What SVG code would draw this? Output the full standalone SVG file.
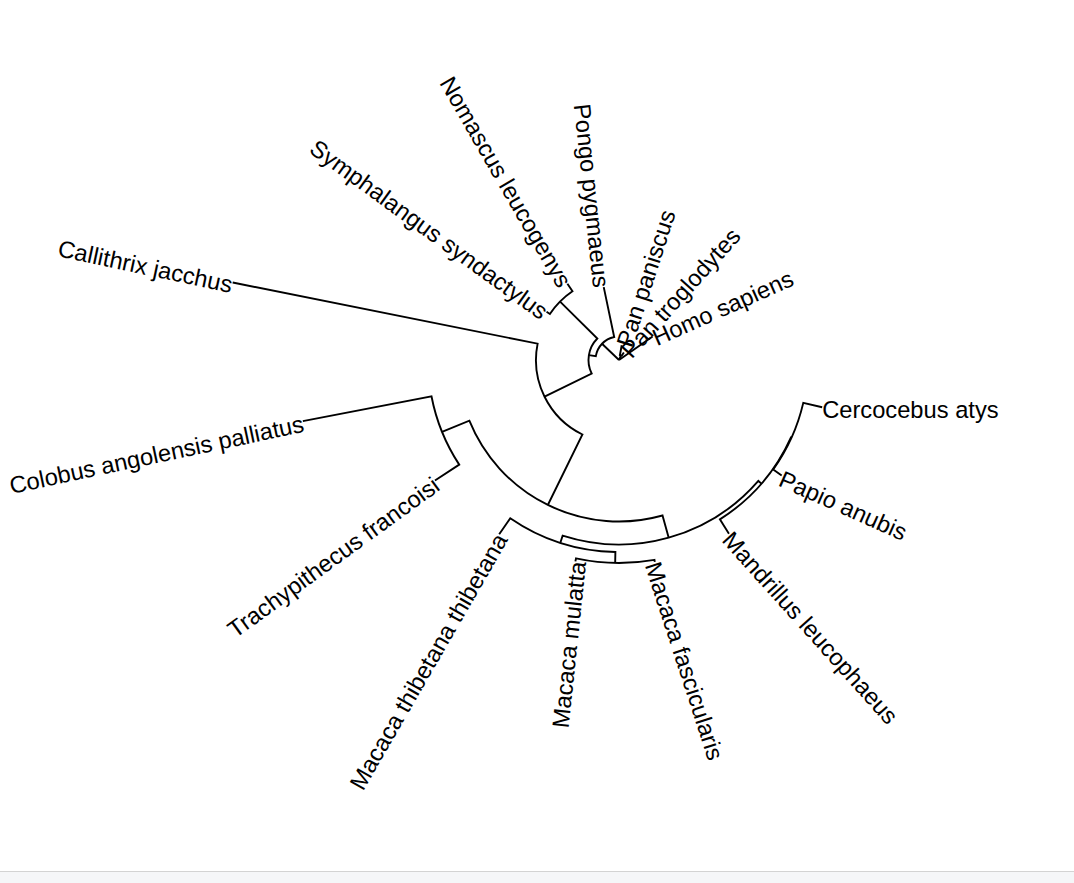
<svg xmlns="http://www.w3.org/2000/svg" width="1074" height="883" viewBox="0 0 1074 883">
<style>
.br{fill:none;stroke:#000;stroke-width:1.9;stroke-linejoin:miter;stroke-linecap:butt}
.lb{font-family:"Liberation Sans",Arial,sans-serif;font-size:23.7px;fill:#000}
.s{text-anchor:start}
.e{text-anchor:end}
</style>
<rect x="0" y="0" width="1074" height="883" fill="#fff"/>
<rect x="0" y="872" width="1074" height="11" fill="#f5f6f8"/>
<line x1="0" y1="871.5" x2="1074" y2="871.5" stroke="#d3d3d3" stroke-width="1"/>
<g id="connectors">
<path class="br" d="M 602.02 343.76 L 619 360 M 619 360 L 620.84 355.35 M 619 360 L 652.59 336.49"/>
<path class="br" d="M 621.72 345.25 L 619.91 355.08 A 5 5 0 0 1 621.70 355.79 L 623.87 352.43"/>
<path class="br" d="M 588.90 355.10 L 595.81 356.22 A 23.5 23.5 0 0 1 614.19 337.00 L 603.74 287.08"/>
<path class="br" d="M 544.57 396.72 L 591.65 373.49 A 30.5 30.5 0 0 1 597.34 338.52 L 560.07 301.56"/>
<path class="br" d="M 547.84 504.98 L 582.43 434.51 A 83 83 0 0 1 537.62 343.68 L 232.69 282.52"/>
<path class="br" d="M 546.55 311.83 L 549.88 314.04 A 83 83 0 0 1 572.47 291.27 L 567.42 283.82"/>
<path class="br" d="M 668.70 537.68 L 662.51 515.53 A 161.5 161.5 0 0 1 469.35 420.70 L 442.01 431.80"/>
<path class="br" d="M 434.95 480.53 L 459.21 464.64 A 191 191 0 0 1 431.47 396.25 L 302.85 421.11"/>
<path class="br" d="M 761.45 483.61 L 758.35 480.92 A 184.5 184.5 0 0 1 562.63 535.68 L 560.34 542.82"/>
<path class="br" d="M 615.17 562.96 L 615.38 551.97 A 192 192 0 0 1 510.25 518.23 L 499.20 534.30"/>
<path class="br" d="M 654.81 561.85 L 654.46 559.88 A 203 203 0 0 1 576.03 558.40 L 575.40 561.33"/>
<path class="br" d="M 791.52 437.68 L 790.97 437.43 A 188.6 188.6 0 0 1 719.90 519.36 L 728.94 533.64"/>
<path class="br" d="M 822.17 407.28 L 803.28 402.88 A 189.2 189.2 0 0 1 773.25 469.55 L 781.66 475.52"/>
</g>
<g id="tip-cercocebus-atys"><text class="lb s" dy="0.45em" transform="translate(822.17 407.28) rotate(0)">Cercocebus atys</text></g>
<g id="tip-papio-anubis"><text class="lb s" dy="0.45em" transform="translate(781.66 475.52) rotate(24)">Papio anubis</text></g>
<g id="tip-mandrillus-leucophaeus"><text class="lb s" dy="0.45em" transform="translate(728.94 533.64) rotate(48)">Mandrillus leucophaeus</text></g>
<g id="tip-macaca-fascicularis"><text class="lb s" dy="0.45em" transform="translate(654.81 561.85) rotate(72)">Macaca fascicularis</text></g>
<g id="tip-macaca-mulatta"><text class="lb e" dy="0.45em" transform="translate(575.40 561.33) rotate(-84)">Macaca mulatta</text></g>
<g id="tip-macaca-thibetana"><text class="lb e" dy="0.45em" transform="translate(499.20 534.30) rotate(-60)">Macaca thibetana thibetana</text></g>
<g id="tip-trachypithecus-francoisi"><text class="lb e" dy="0.45em" transform="translate(434.95 480.53) rotate(-36)">Trachypithecus francoisi</text></g>
<g id="tip-colobus-angolensis-palliatus"><text class="lb e" dy="0.45em" transform="translate(302.85 421.11) rotate(-12)">Colobus angolensis palliatus</text></g>
<g id="tip-callithrix-jacchus"><text class="lb e" dy="0.45em" transform="translate(232.69 282.52) rotate(12)">Callithrix jacchus</text></g>
<g id="tip-symphalangus-syndactylus"><text class="lb e" dy="0.45em" transform="translate(546.55 311.83) rotate(36)">Symphalangus syndactylus</text></g>
<g id="tip-nomascus-leucogenys"><text class="lb e" dy="0.45em" transform="translate(567.42 283.82) rotate(60)">Nomascus leucogenys</text></g>
<g id="tip-pongo-pygmaeus"><text class="lb e" dy="0.45em" transform="translate(603.74 287.08) rotate(84)">Pongo pygmaeus</text></g>
<g id="tip-pan-paniscus"><text class="lb s" dy="0.45em" transform="translate(621.72 345.25) rotate(-72)">Pan paniscus</text></g>
<g id="tip-pan-troglodytes"><text class="lb s" dy="0.45em" transform="translate(623.87 352.43) rotate(-48)">Pan troglodytes</text></g>
<g id="tip-homo-sapiens"><text class="lb s" dy="0.45em" transform="translate(652.59 336.49) rotate(-24)">Homo sapiens</text></g>
</svg>
